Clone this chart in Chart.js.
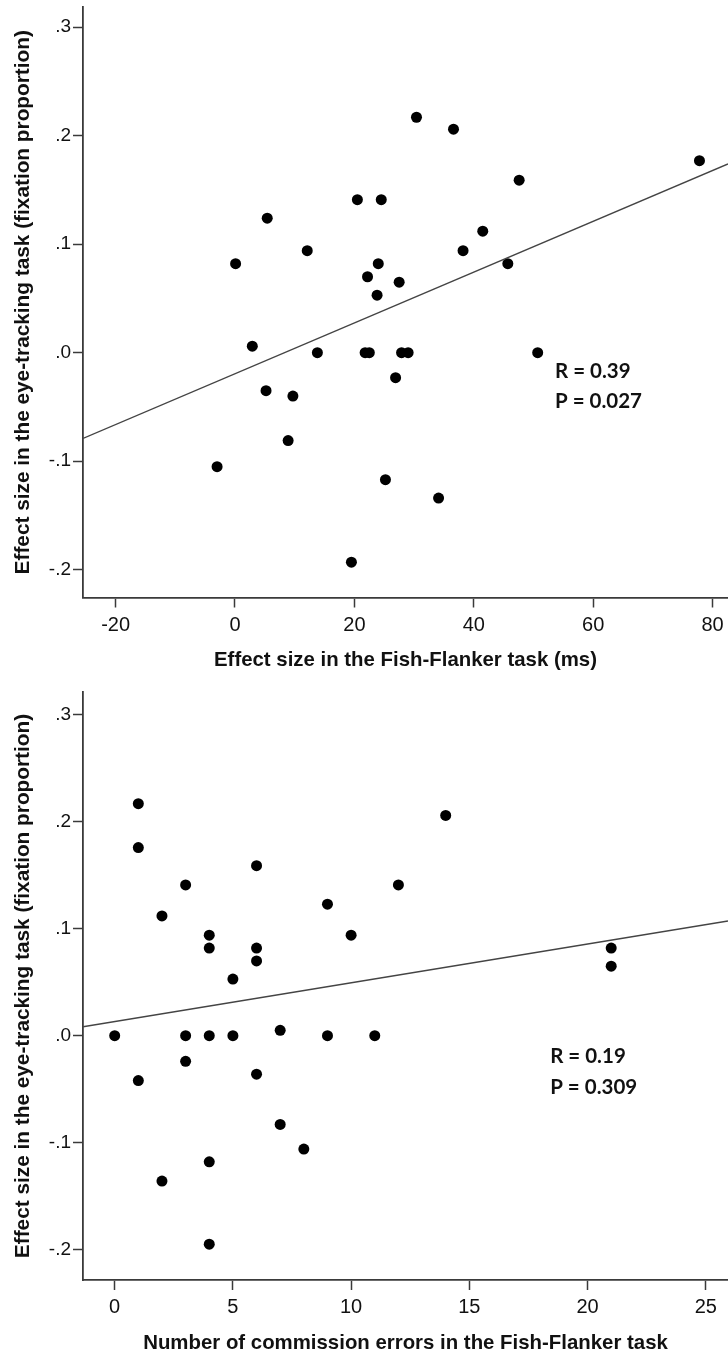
<!DOCTYPE html>
<html lang="en">
<head>
<meta charset="UTF-8">
<title>Eye-tracking effect vs Fish-Flanker task</title>
<style>
    body { margin: 0; background: #fff; }
    #wrap { width: 728px; height: 1357px; }
    canvas { display: block; }
</style>
</head>
<body>
<div id="wrap">
    <canvas id="chartTop" width="728" height="680"></canvas>
    <canvas id="chartBottom" width="728" height="677"></canvas>
</div>

<script src="https://cdn.jsdelivr.net/npm/chart.js"></script>
<script>
    // y values shared by both panels (eye-tracking effect, fixation proportion)
    const yTicks = [-0.2, -0.1, 0, 0.1, 0.2, 0.3];
    const yTickLabels = ['-.2', '-.1', '.0', '.1', '.2', '.3'];

    // top panel: effect size in the Fish-Flanker task (ms)
    const flankerMs = [30.4, 36.6, 77.8, 47.6, 20.5, 24.5, 5.4, 41.5, 12.1, 38.2, 0.1, 24.0, 45.7, 22.2, 27.5, 23.8,
        2.9, 13.8, 21.8, 22.5, 27.9, 29.0, 50.7, 26.9, 5.2, 9.7, 8.9, -3.0, 25.2, 34.1, 19.5];
    const fixationTop = [0.217, 0.206, 0.177, 0.159, 0.141, 0.141, 0.124, 0.112, 0.094, 0.094, 0.082, 0.082, 0.082, 0.070, 0.065, 0.053,
        0.006, 0, 0, 0, 0, 0, 0, -0.023, -0.035, -0.040, -0.081, -0.105, -0.117, -0.134, -0.193];
    const xTicksTop = [-20, 0, 20, 40, 60, 80];
    const fitXTop = [-25.46, 82.58];
    const fitYTop = [-0.079, 0.174];
    const statsTop = ['R = 0.39', 'P = 0.027'];

    // bottom panel: number of commission errors
    const commissionErrors = [1, 1, 14, 6, 3, 12, 2, 9, 4, 10, 4, 6, 6, 5, 21, 21,
        0, 3, 4, 5, 7, 9, 11, 3, 1, 6, 7, 8, 4, 2, 4];
    const fixationBottom = [0.217, 0.176, 0.206, 0.159, 0.141, 0.141, 0.112, 0.123, 0.094, 0.094, 0.082, 0.082, 0.070, 0.053, 0.082, 0.065,
        0, 0, 0, 0, 0.005, 0, 0, -0.024, -0.042, -0.036, -0.083, -0.106, -0.118, -0.136, -0.195];
    const xTicksBottom = [0, 5, 10, 15, 20, 25];
    const fitXBottom = [-1.34, 25.94];
    const fitYBottom = [0.0084, 0.1073];
    const statsBottom = ['R = 0.19', 'P = 0.309'];

    const yTitle = 'Effect size in the eye-tracking task (fixation proportion)';

    Chart.defaults.font.family = '"Liberation Sans", Arial, sans-serif';
    Chart.defaults.color = '#111';

    // draws the R / P lines, anchored in data units
    const statsText = {
        id: 'statsText',
        afterDatasetsDraw(chart, args, opts) {
            const ctx = chart.ctx;
            const x = chart.scales.x, y = chart.scales.y;
            ctx.save();
            ctx.font = 'bold 20.5px Lato';
            ctx.fillStyle = '#111';
            ctx.textBaseline = 'middle';
            opts.lines.forEach((t, i) => {
                ctx.fillText(t, x.getPixelForValue(opts.x), y.getPixelForValue(opts.y[i]));
            });
            ctx.restore();
        }
    };

    function makeChart(id, c) {
        const points = c.xs.map((v, i) => ({ x: v, y: c.ys[i] }));
        const fit = c.fitX.map((v, i) => ({ x: v, y: c.fitY[i] }));
        const axisColor = '#3a3a3a';

        return new Chart(document.getElementById(id), {
            type: 'scatter',
            data: {
                datasets: [
                    {
                        type: 'line',
                        data: fit,
                        borderColor: '#444',
                        borderWidth: 1.4,
                        pointRadius: 0,
                        fill: false
                    },
                    {
                        data: points,
                        backgroundColor: '#000',
                        borderWidth: 0,
                        pointRadius: 5.5
                    }
                ]
            },
            options: {
                responsive: false,
                animation: false,
                layout: { autoPadding: false, padding: { top: c.padTop, right: 0, bottom: 0, left: 0 } },
                plugins: {
                    legend: { display: false },
                    tooltip: { enabled: false },
                    statsText: { lines: c.stats, x: c.statsX, y: c.statsY }
                },
                scales: {
                    x: {
                        type: 'linear',
                        min: c.xMin,
                        max: c.xMax,
                        afterFit: s => {
                            s.height = c.xAxisHeight;
                            s.paddingLeft = 0;
                            s.paddingRight = 0;
                        },
                        afterBuildTicks: s => { s.ticks = c.xTicks.map(v => ({ value: v })); },
                        grid: { drawOnChartArea: false, tickLength: 10, tickColor: axisColor, tickWidth: 1.5 },
                        border: { color: axisColor, width: 1.8 },
                        ticks: { font: { size: 20 }, padding: c.xTickPad, color: '#111', maxRotation: 0 },
                        title: {
                            display: true,
                            text: c.xTitle,
                            font: { size: 20.4, weight: 'bold' },
                            color: '#111',
                            padding: { top: 0, bottom: c.xTitlePad }
                        }
                    },
                    y: {
                        type: 'linear',
                        min: c.yMin,
                        max: c.yMax,
                        afterFit: s => {
                            s.width = 83;
                            s.paddingTop = 0;
                            s.paddingBottom = 0;
                        },
                        afterBuildTicks: s => { s.ticks = yTicks.map(v => ({ value: v })); },
                        grid: { drawOnChartArea: false, tickLength: 10, tickColor: axisColor, tickWidth: 1.5 },
                        border: { color: axisColor, width: 1.8 },
                        ticks: {
                            font: { size: 19 },
                            padding: 2,
                            color: '#111',
                            callback: v => yTickLabels[yTicks.findIndex(t => Math.abs(t - v) < 1e-6)]
                        },
                        title: {
                            display: true,
                            text: yTitle,
                            font: { size: 20.8, weight: 'bold' },
                            color: '#111',
                            padding: { top: 11, bottom: 0 }
                        }
                    }
                }
            },
            plugins: [statsText]
        });
    }

    makeChart('chartTop', {
        xs: flankerMs, ys: fixationTop,
        fitX: fitXTop, fitY: fitYTop,
        xMin: -25.46, xMax: 82.58, yMin: -0.2256, yMax: 0.3186,
        xTicks: xTicksTop,
        xTitle: 'Effect size in the Fish-Flanker task (ms)',
        padTop: 7, xAxisHeight: 82.5, xTitlePad: 7, xTickPad: 6,
        stats: statsTop, statsX: 53.6, statsY: [-0.0175, -0.0452]
    });

    makeChart('chartBottom', {
        xs: commissionErrors, ys: fixationBottom,
        fitX: fitXBottom, fitY: fitYBottom,
        xMin: -1.34, xMax: 25.94, yMin: -0.2285, yMax: 0.3215,
        xTicks: xTicksBottom,
        xTitle: 'Number of commission errors in the Fish-Flanker task',
        padTop: 12, xAxisHeight: 77, xTitlePad: 1, xTickPad: 5,
        stats: statsBottom, statsX: 18.42, statsY: [-0.0196, -0.0482]
    });
</script>
</body>
</html>
